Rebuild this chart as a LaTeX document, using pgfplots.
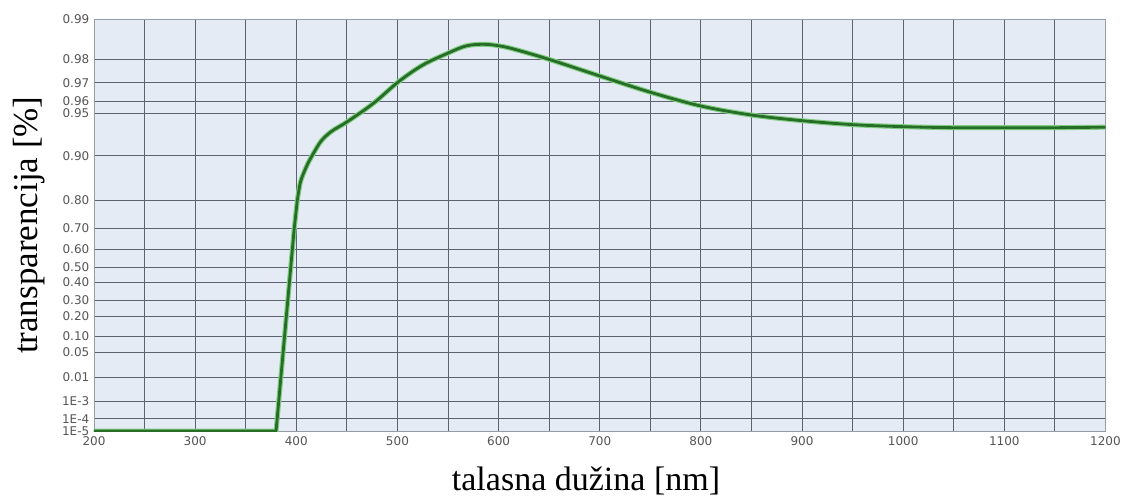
\documentclass[border=0pt]{standalone}
\usepackage{fontspec}
\setmainfont{Liberation Serif}
\newfontfamily\tickfont{DejaVu Sans}
\usepackage{pgfplots}
\pgfplotsset{compat=1.18}

\definecolor{plotbg}{RGB}{229,235,245}
\definecolor{gridc}{RGB}{92,98,112}
\definecolor{framec}{RGB}{150,156,166}
\definecolor{ticktext}{RGB}{85,85,85}
\definecolor{curve}{RGB}{38,110,40}
\definecolor{curvehalo}{RGB}{130,205,130}

% Piecewise-linear transmission scale: value -> vertical position (pt)
\pgfplotsset{
  transmission scale/.style={
    y coord trafo/.code={%
      \begingroup
      \pgfkeys{/pgf/fpu=true,/pgf/fpu/output format=fixed}%
      \pgfmathparse{(##1<0.0001) ? ((##1-0.00001)*136666.667) : (
        (##1<0.001) ? (12.3+(##1-0.0001)*19333.333) : (
        (##1<0.01)  ? (29.7+(##1-0.001)*2700) : (
        (##1<0.05)  ? (54+(##1-0.01)*625) : (
        (##1<0.1)   ? (79+(##1-0.05)*314) : (
        (##1<0.2)   ? (94.7+(##1-0.1)*200) : (
        (##1<0.3)   ? (114.7+(##1-0.2)*163) : (
        (##1<0.4)   ? (131+(##1-0.3)*177) : (
        (##1<0.5)   ? (148.7+(##1-0.4)*150) : (
        (##1<0.6)   ? (163.7+(##1-0.5)*183) : (
        (##1<0.7)   ? (182+(##1-0.6)*210) : (
        (##1<0.8)   ? (203+(##1-0.7)*277) : (
        (##1<0.9)   ? (230.7+(##1-0.8)*446) : (
        (##1<0.95)  ? (275.3+(##1-0.9)*844) : (
        (##1<0.96)  ? (317.5+(##1-0.95)*1250) : (
        (##1<0.97)  ? (330+(##1-0.96)*1830) : (
        (##1<0.98)  ? (348.3+(##1-0.97)*2320) : (371.5+(##1-0.98)*4000)
        ))))))))))))))))}%
      \xdef\transpos{\pgfmathresult}%
      \endgroup
      \let\pgfmathresult\transpos
    },
  },
}

\begin{document}
\begin{tikzpicture}
\begin{axis}[
  transmission scale,
  at={(0,0)}, anchor=south west,
  scale only axis,
  width=1011.5pt, height=411.5pt,
  xmin=200, xmax=1200,
  ymin=0.00001, ymax=0.99,
  axis background/.style={fill=plotbg},
  axis line style={framec, line width=0.8pt},
  xtick={200,300,...,1200},
  xticklabels={200,300,400,500,600,700,800,900,1000,1100,1200},
  minor xtick={250,350,...,1150},
  ytick={0.00001,0.0001,0.001,0.01,0.05,0.1,0.2,0.3,0.4,0.5,0.6,0.7,0.8,0.9,0.95,0.96,0.97,0.98,0.99},
  yticklabels={1E-5,1E-4,1E-3,0.01,0.05,0.10,0.20,0.30,0.40,0.50,0.60,0.70,0.80,0.90,0.95,0.96,0.97,0.98,0.99},
  grid=both,
  major grid style={gridc, line width=0.9pt},
  minor grid style={gridc, line width=0.9pt},
  major tick length=0pt, minor tick length=0pt,
  xticklabel style={font=\tickfont\fontsize{12}{14}\selectfont, text=ticktext, anchor=north, inner sep=0pt, yshift=-5pt},
  yticklabel style={font=\tickfont\fontsize{12}{14}\selectfont, text=ticktext, anchor=east, inner sep=0pt, xshift=-4.5pt},
  xlabel={talasna dužina [nm]},
  xlabel style={at={(axis description cs:0.4864,-0.1434)}, anchor=base, font=\fontsize{34}{40}\selectfont, text=black},
  ylabel={transparencija [\%]},
  ylabel style={at={(axis description cs:-0.0554,0.5)}, rotate=0, anchor=base, font=\fontsize{35}{42}\selectfont, text=black},
]
% steep absorption edge
\addplot[curvehalo, line width=5pt, line join=round] coordinates {
  (200,0.00001) (380,0.00001) (398,0.70) (401,0.80)
};
\addplot[curvehalo, line width=5pt, smooth, tension=0.55] coordinates {
  (401,0.80) (404,0.84) (408,0.865) (412,0.885) (418,0.905) (425,0.918)
  (435,0.929) (450,0.940) (476,0.958) (501,0.9704) (525,0.9776) (550,0.9816)
  (568,0.9834) (585,0.9838) (601,0.9834) (618,0.9824) (651,0.9799) (700,0.9729)
  (750,0.9648) (800,0.956) (850,0.9482) (900,0.9415) (950,0.9368) (1000,0.9344)
  (1050,0.9332) (1100,0.9332) (1150,0.9332) (1200,0.9338)
};
% transmission curve
\addplot[curve, line width=2.8pt, line join=round] coordinates {
  (200,0.00001) (380,0.00001) (398,0.70) (401,0.80)
};
\addplot[curve, line width=2.8pt, smooth, tension=0.55] coordinates {
  (401,0.80) (404,0.84) (408,0.865) (412,0.885) (418,0.905) (425,0.918)
  (435,0.929) (450,0.940) (476,0.958) (501,0.9704) (525,0.9776) (550,0.9816)
  (568,0.9834) (585,0.9838) (601,0.9834) (618,0.9824) (651,0.9799) (700,0.9729)
  (750,0.9648) (800,0.956) (850,0.9482) (900,0.9415) (950,0.9368) (1000,0.9344)
  (1050,0.9332) (1100,0.9332) (1150,0.9332) (1200,0.9338)
};
\end{axis}
\pgfresetboundingbox
\path (-94pt,-65pt) rectangle (1030pt,431pt);
\end{tikzpicture}
\end{document}
